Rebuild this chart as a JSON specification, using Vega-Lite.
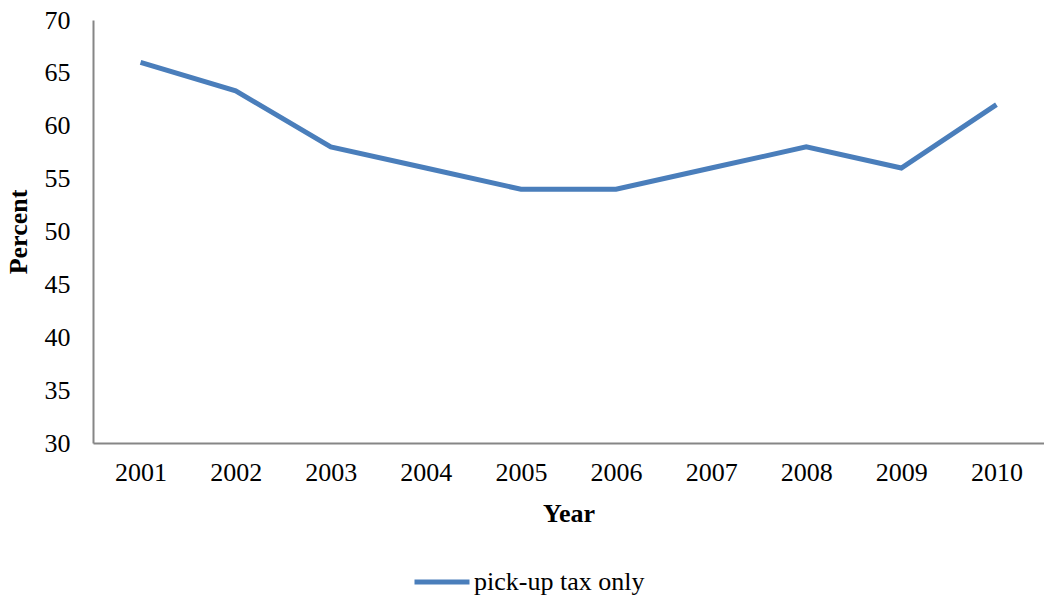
{
  "$schema": "https://vega.github.io/schema/vega-lite/v6.json",
  "width": 951,
  "height": 423,
  "autosize": {"type": "none"},
  "padding": {"left": 93, "top": 20, "right": 0, "bottom": 158},
  "background": "white",
  "config": {
    "view": {"stroke": null},
    "font": "Liberation Serif"
  },
  "data": {
    "values": [
      {"Year": "2001", "Percent": 66, "Series": "pick-up tax only"},
      {"Year": "2002", "Percent": 63.3, "Series": "pick-up tax only"},
      {"Year": "2003", "Percent": 58, "Series": "pick-up tax only"},
      {"Year": "2004", "Percent": 56, "Series": "pick-up tax only"},
      {"Year": "2005", "Percent": 54, "Series": "pick-up tax only"},
      {"Year": "2006", "Percent": 54, "Series": "pick-up tax only"},
      {"Year": "2007", "Percent": 56, "Series": "pick-up tax only"},
      {"Year": "2008", "Percent": 58, "Series": "pick-up tax only"},
      {"Year": "2009", "Percent": 56, "Series": "pick-up tax only"},
      {"Year": "2010", "Percent": 62, "Series": "pick-up tax only"}
    ]
  },
  "mark": {"type": "line", "strokeWidth": 5, "strokeJoin": "miter", "strokeCap": "butt"},
  "encoding": {
    "x": {
      "field": "Year",
      "type": "ordinal",
      "scale": {"type": "point", "padding": 0.5},
      "axis": {
        "title": "Year",
        "titleFont": "Liberation Serif",
        "titleFontSize": 26,
        "titleFontWeight": "bold",
        "titleColor": "black",
        "titlePadding": 15,
        "labelFont": "Liberation Serif",
        "labelFontSize": 26,
        "labelColor": "black",
        "labelAngle": 0,
        "labelPadding": 16,
        "ticks": false,
        "grid": false,
        "domainColor": "#868686",
        "domainWidth": 2
      }
    },
    "y": {
      "field": "Percent",
      "type": "quantitative",
      "scale": {"domain": [30, 70], "nice": false, "zero": false},
      "axis": {
        "title": "Percent",
        "titleFont": "Liberation Serif",
        "titleFontSize": 26,
        "titleFontWeight": "bold",
        "titleColor": "black",
        "titlePadding": 13,
        "values": [30, 35, 40, 45, 50, 55, 60, 65, 70],
        "labelFont": "Liberation Serif",
        "labelFontSize": 26,
        "labelColor": "black",
        "labelPadding": 23,
        "ticks": false,
        "grid": false,
        "domainColor": "#868686",
        "domainWidth": 2
      }
    },
    "color": {
      "field": "Series",
      "type": "nominal",
      "scale": {"range": ["#4A7EBB"]},
      "legend": {
        "title": null,
        "orient": "none",
        "legendX": 319,
        "legendY": 532,
        "symbolType": "stroke",
        "symbolSize": 3025,
        "symbolStrokeWidth": 5,
        "labelFont": "Liberation Serif",
        "labelFontSize": 26,
        "labelColor": "black",
        "labelOffset": 2,
        "labelLimit": 400
      }
    }
  }
}
